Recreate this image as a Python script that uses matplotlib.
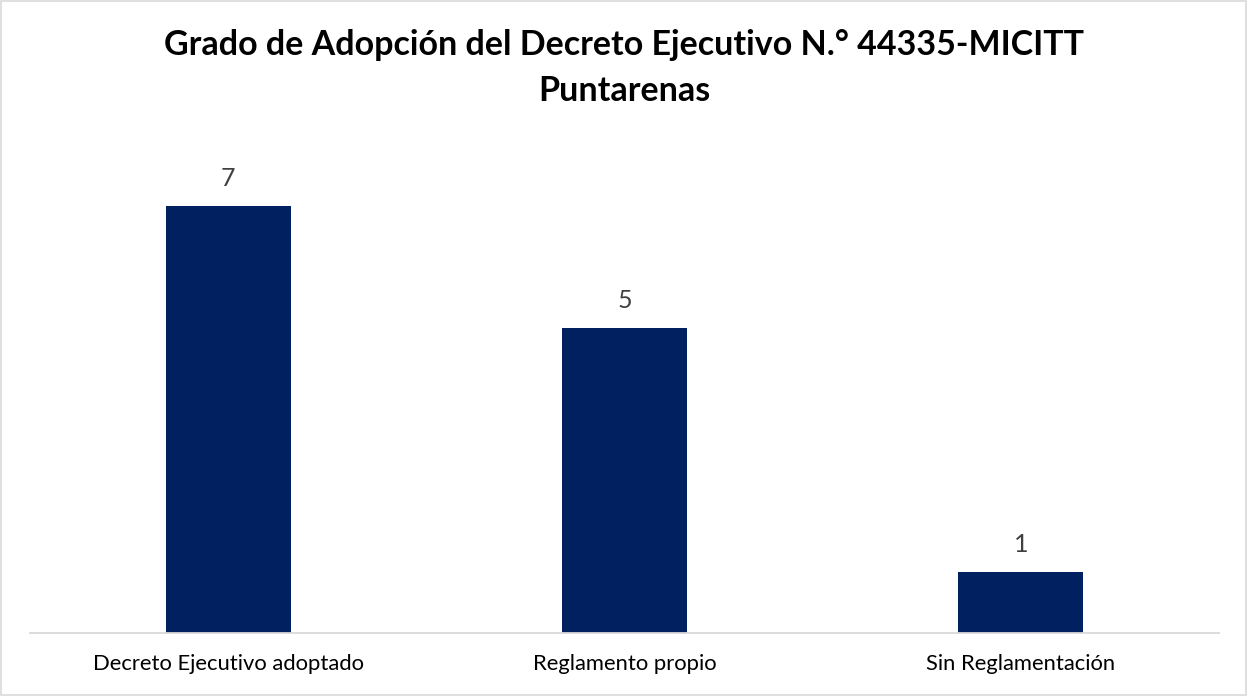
import matplotlib
matplotlib.use('Agg')
import matplotlib.pyplot as plt
from matplotlib.patches import Rectangle

plt.rcParams['font.family'] = ['Lato', 'DejaVu Sans']

# Chart data
categories = ['Decreto Ejecutivo adoptado', 'Reglamento propio', 'Sin Reglamentación']
values = [7, 5, 1]
title = 'Grado de Adopción del Decreto Ejecutivo N.° 44335-MICITT\nPuntarenas'

W, H = 1248, 696
fig = plt.figure(figsize=(W / 100, H / 100), dpi=100)
fig.patch.set_facecolor('white')

# light grey frame around the whole chart
fig.patches.append(Rectangle((0.001, 0.002), 0.997, 0.996, transform=fig.transFigure,
                             fill=False, edgecolor='#d9d9d9', linewidth=1.2))

ax = fig.add_axes([30 / W, 1 - 633 / H, (1219 - 30) / W, (633 - 145) / H])
x = range(len(categories))
bars = ax.bar(x, values, width=0.315, color='#002060', zorder=2)

for b, v in zip(bars, values):
    ax.text(b.get_x() + b.get_width() / 2, v + 0.26, str(v), ha='center', va='bottom',
            fontsize=18, color='#404040')

ax.set_xlim(-0.5, 2.5)
ax.set_ylim(0, 8)
ax.set_xticks(list(x))
ax.set_xticklabels(categories, fontsize=15.8, color='#000000')
ax.tick_params(axis='x', length=0, pad=15)
ax.set_yticks([])
for s in ['top', 'right', 'left']:
    ax.spines[s].set_visible(False)
ax.spines['bottom'].set_color('#d9d9d9')
ax.spines['bottom'].set_linewidth(1.3)

fig.text(0.5, 1 - 68 / H, title, ha='center', va='center', fontsize=24.5,
         fontweight='bold', color='#000000', linespacing=1.55)

fig.savefig('out.png', dpi=100)
